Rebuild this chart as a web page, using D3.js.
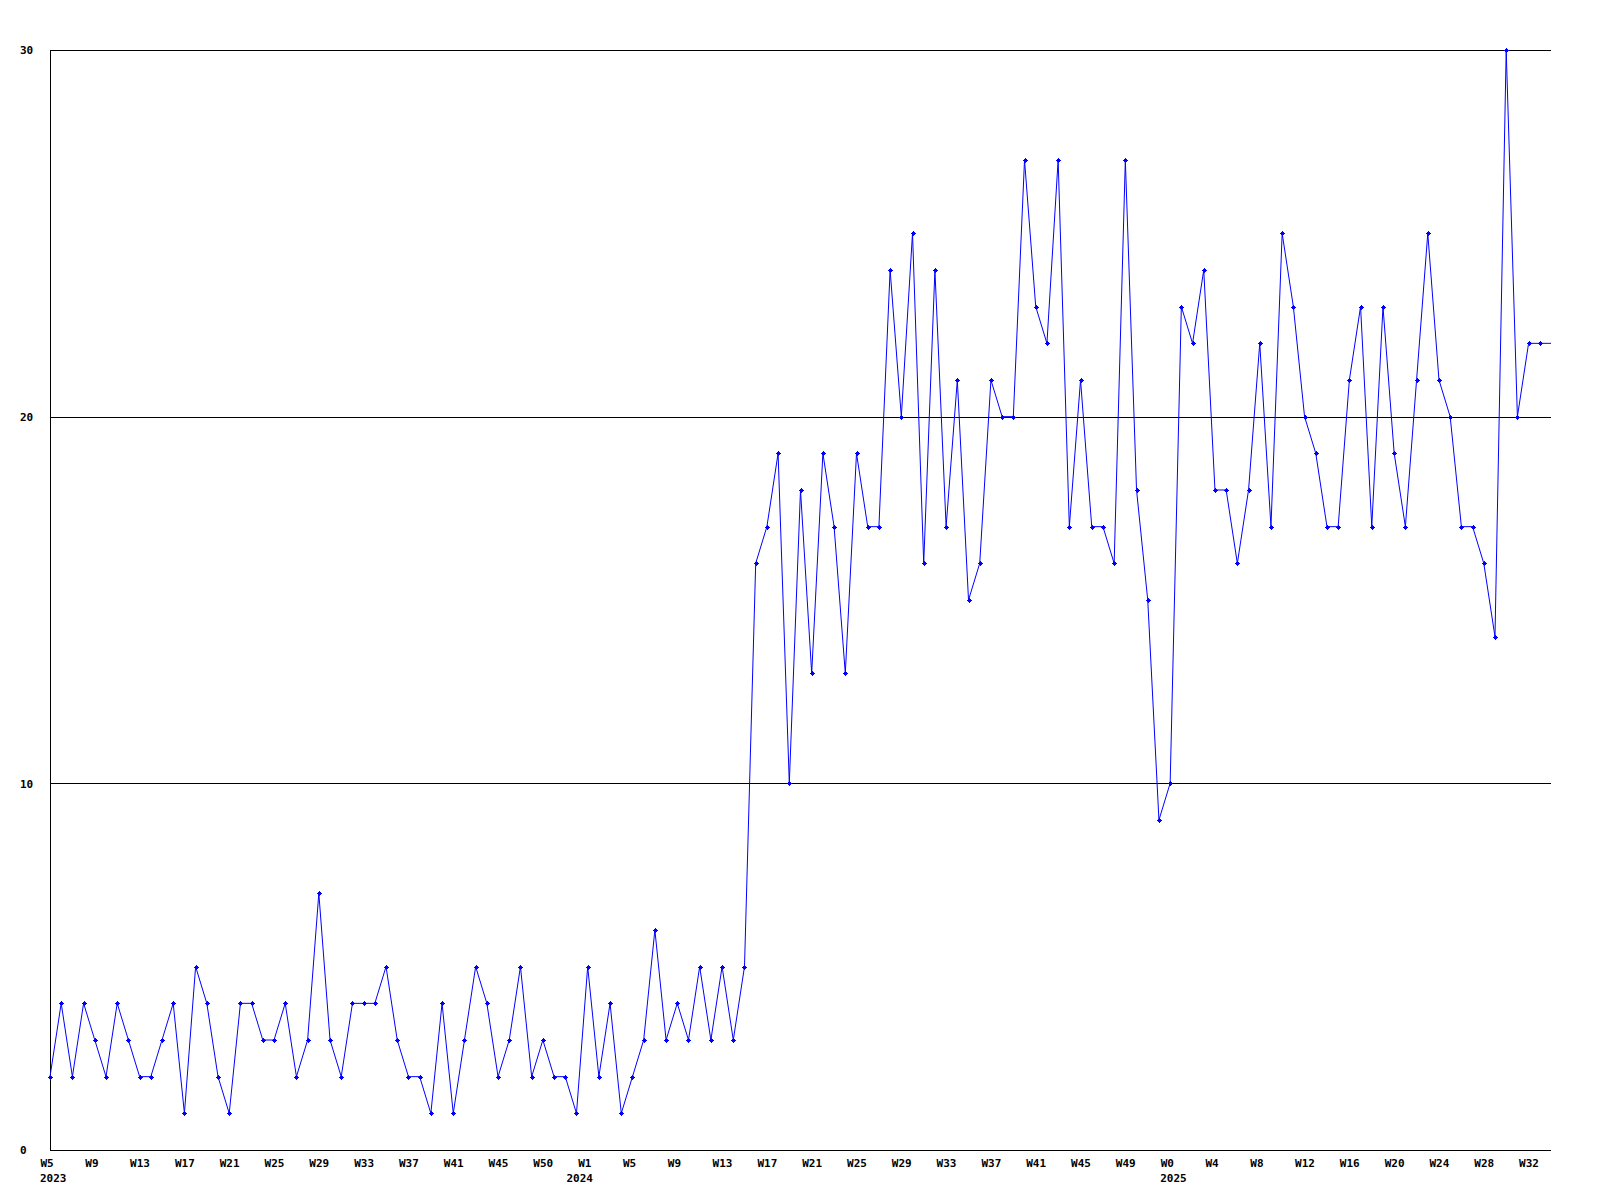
<!DOCTYPE html>
<html>
<head>
<meta charset="utf-8">
<script src="https://cdn.jsdelivr.net/npm/d3@7"></script>
<style>
  html, body { margin: 0; padding: 0; background: #fff; }
  svg { display: block; }
  text { font-family: "DejaVu Sans Mono", "Liberation Mono", monospace; font-weight: bold; font-size: 11px; fill: #000; }
</style>
</head>
<body>
<svg id="chart" width="1600" height="1200"></svg>
<script>
// weekly counts, one per week starting W5 2023
const values = [
  2,4,2,4,3,2,4,3,2,2,3,4,1,5,4,2,1,4,4,3,
  3,4,2,3,7,3,2,4,4,4,5,3,2,2,1,4,1,3,5,4,
  2,3,5,2,3,2,2,1,5,2,4,1,2,3,6,3,4,3,5,3,
  5,3,5,16,17,19,10,18,13,19,17,13,19,17,17,24,20,25,16,24,
  17,21,15,16,21,20,20,27,23,22,27,17,21,17,17,16,27,18,15,9,
  10,23,22,24,18,18,16,18,22,17,25,23,20,19,17,17,21,23,17,23,
  19,17,21,25,21,20,17,17,16,14,30,20,22,22,22
];
// x tick labels, one every 4 weeks
const tickLabels = ["W5","W9","W13","W17","W21","W25","W29","W33","W37","W41","W45","W50",
  "W1","W5","W9","W13","W17","W21","W25","W29","W33","W37","W41","W45","W49",
  "W0","W4","W8","W12","W16","W20","W24","W28","W32"];
const yearLabels = ["2023","2024","2025"];
const yearStartIndex = [0, 47, 100]; // week index at which each year starts
const yTicks = [0, 10, 20, 30];

const svg = d3.select("#chart");
const mLeft = 50, mRight = 1551, mTop = 50, mBottom = 1150;

const x = d3.scaleLinear().domain([0, values.length - 1]).range([mLeft, mRight]);
const y = d3.scaleLinear().domain([0, 30]).range([mBottom, mTop]);

// gridlines
svg.append("g").selectAll("line").data(yTicks.filter(d => d > 0)).join("line")
  .attr("x1", mLeft).attr("x2", mRight)
  .attr("y1", d => Math.round(y(d)) + 0.5).attr("y2", d => Math.round(y(d)) + 0.5)
  .attr("stroke", "#000").attr("stroke-width", 1).attr("shape-rendering", "crispEdges");

// axes lines
svg.append("line").attr("x1", mLeft + 0.5).attr("x2", mLeft + 0.5).attr("y1", mTop).attr("y2", mBottom + 1)
  .attr("stroke", "#000").attr("shape-rendering", "crispEdges");
svg.append("line").attr("x1", mLeft).attr("x2", mRight).attr("y1", mBottom + 0.5).attr("y2", mBottom + 0.5)
  .attr("stroke", "#000").attr("shape-rendering", "crispEdges");

// y axis labels
const yAxis = d3.axisLeft(y).tickValues(yTicks).tickSize(0).tickFormat(d3.format("d"));
const gy = svg.append("g").attr("transform", `translate(${mLeft},0)`).call(yAxis);
gy.select(".domain").remove();
gy.attr("font-family", null).attr("font-size", null);
gy.selectAll("text").attr("text-anchor", "start").attr("x", 20 - mLeft).attr("dy", "0.35em");

// x axis labels
const tickIdx = tickLabels.map((_, i) => i * 4);
const xAxis = d3.axisBottom(x).tickValues(tickIdx).tickSize(0)
  .tickFormat((d, i) => tickLabels[i]);
const gx = svg.append("g").attr("transform", `translate(0,${mBottom})`).call(xAxis);
gx.select(".domain").remove();
gx.attr("font-family", null).attr("font-size", null);
gx.selectAll("text").attr("text-anchor", "start").attr("x", -10).attr("y", 17).attr("dy", null);

// year labels
svg.append("g").selectAll("text").data(yearLabels).join("text")
  .attr("x", (d, i) => x(yearStartIndex[i]) - 10)
  .attr("y", mBottom + 32)
  .text(d => d);

// data line
const line = d3.line().x((d, i) => x(i)).y(d => y(d));
svg.append("path").datum(values).attr("d", line)
  .attr("fill", "none").attr("stroke", "#0000ff").attr("stroke-width", 1);

// markers (small plus-diamond)
const mk = "M-2.5,-0.5h5v1h-5z M-0.5,-2.5h1v5h-1z M-1.5,-1.5h3v3h-3z";
svg.append("g").selectAll("path").data(values.slice(0, values.length - 1)).join("path")
  .attr("transform", (d, i) => `translate(${Math.round(x(i)) + 0.5},${Math.round(y(d)) + 0.5})`)
  .attr("d", mk).attr("fill", "#0000ff").attr("shape-rendering", "crispEdges");
</script>
</body>
</html>
